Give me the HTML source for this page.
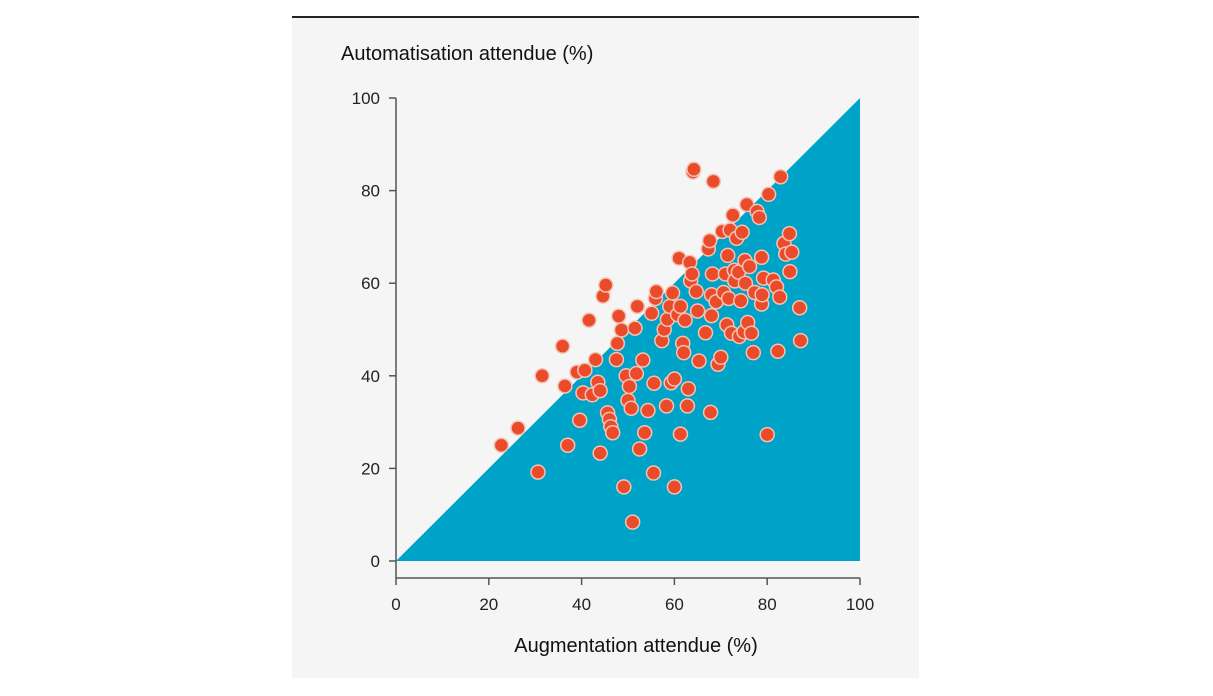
<!DOCTYPE html>
<html><head><meta charset="utf-8"><style>
body{margin:0;width:1213px;height:691px;background:#fff;font-family:"Liberation Sans",sans-serif;overflow:hidden}
</style></head><body>
<svg width="1213" height="691">
<rect x="292" y="17" width="627" height="661" fill="#f5f5f5"/>
<line x1="292" y1="17" x2="919" y2="17" stroke="#222" stroke-width="2"/>
<text x="341" y="60" font-size="20" fill="#111">Automatisation attendue (%)</text>
<text x="636" y="652" font-size="20" fill="#111" text-anchor="middle">Augmentation attendue (%)</text>
<g id="plot"></g>
</svg>
<script>
const xTicks=[0,20,40,60,80,100];
const yTicks=[0,20,40,60,80,100];
const xs=[22.7,26.3,30.6,31.5,35.9,36.4,37,39,39.6,40.3,40.7,41.6,42.3,43,43.5,44,44,44.6,45.2,45.6,46,46.3,46.7,47.5,47.7,48,48.6,49.1,49.6,50,50.3,50.7,51,51.5,51.8,52,52.5,53.2,53.6,54.3,55.1,55.5,55.6,55.9,56.1,57.3,57.8,58.3,58.5,59,59.3,59.6,60,60,60.7,61,61.3,61.3,61.8,62,62.3,62.8,63,63.3,63.5,63.8,64,64.2,64.7,65,65.3,66.7,67.3,67.6,67.8,68.2,68,68,68.4,69,69.4,70,70.3,70.6,71,71.3,71.5,71.7,72,72.3,72.6,72.9,73,73.4,73.8,74,74.3,74.6,75,75.2,75.3,75.6,75.8,76.2,76.6,77,77.3,77.8,78.3,78.8,78.8,78.9,79.2,80,80.3,81.3,82,82.3,82.7,82.9,83.6,84,84.8,84.9,85.3,87,87.2];
const ys=[25,28.7,19.2,40,46.4,37.8,25,40.8,30.4,36.3,41.2,52,35.9,43.5,38.6,36.8,23.3,57.2,59.6,32,30.6,29,27.7,43.5,47,52.9,49.9,16,40,34.7,37.7,33,8.4,50.3,40.5,55,24.2,43.4,27.7,32.5,53.5,19,38.4,56.7,58.2,47.6,50,33.5,52.2,55,38.5,57.9,39.3,16,53.2,65.4,55,27.4,47,45,52,33.5,37.2,64.5,60.5,62,84,84.6,58.2,54,43.2,49.3,67.4,69.2,32.1,62,57.5,53,82,56,42.5,44,71.2,58,62,51,66,56.7,71.5,49.2,74.7,62.8,60.5,69.7,62.4,48.5,56.2,71,49.5,64.9,60,77,51.5,63.6,49.2,45,58,75.5,74.2,65.6,55.5,57.5,61.1,27.3,79.2,60.7,59.2,45.3,57,83,68.6,66.3,70.7,62.5,66.7,54.7,47.6];
const NS='http://www.w3.org/2000/svg';
const g=document.getElementById('plot');
const X=v=>396+v*4.64, Y=v=>561-v*4.63;
function mk(t,a){const e=document.createElementNS(NS,t);for(const k in a)e.setAttribute(k,a[k]);g.appendChild(e);return e;}
let tri=mk('polygon',{points:`${X(0)},${Y(0)} ${X(100)},${Y(100)} ${X(100)},${Y(0)}`,fill:'#00a3c8'});


let ya=mk('line',{x1:396,y1:Y(100),x2:396,y2:578,stroke:'#555','stroke-width':1.5});


let xa=mk('line',{x1:396,y1:578,x2:X(100),y2:578,stroke:'#555','stroke-width':1.5});


yTicks.forEach(v=>{
 let l=mk('line',{x1:389,y1:Y(v),x2:396,y2:Y(v),stroke:'#555','stroke-width':1.5});
 
 
 let t=mk('text',{x:380,y:Y(v)+6,'font-size':17,fill:'#222','text-anchor':'end'});t.textContent=v;
 
 
});
xTicks.forEach(v=>{
 let l=mk('line',{x1:X(v),y1:578,x2:X(v),y2:585,stroke:'#555','stroke-width':1.5});
 
 
 let t=mk('text',{x:X(v),y:610,'font-size':17,fill:'#222','text-anchor':'middle'});t.textContent=v;
 
 
});
xs.forEach((v,i)=>{
 let c=mk('circle',{cx:X(v),cy:Y(ys[i]),r:7,fill:'#ea4b2a',stroke:'#f3c4b6','stroke-width':1.5});
 
 
});
</script>
</body></html>
